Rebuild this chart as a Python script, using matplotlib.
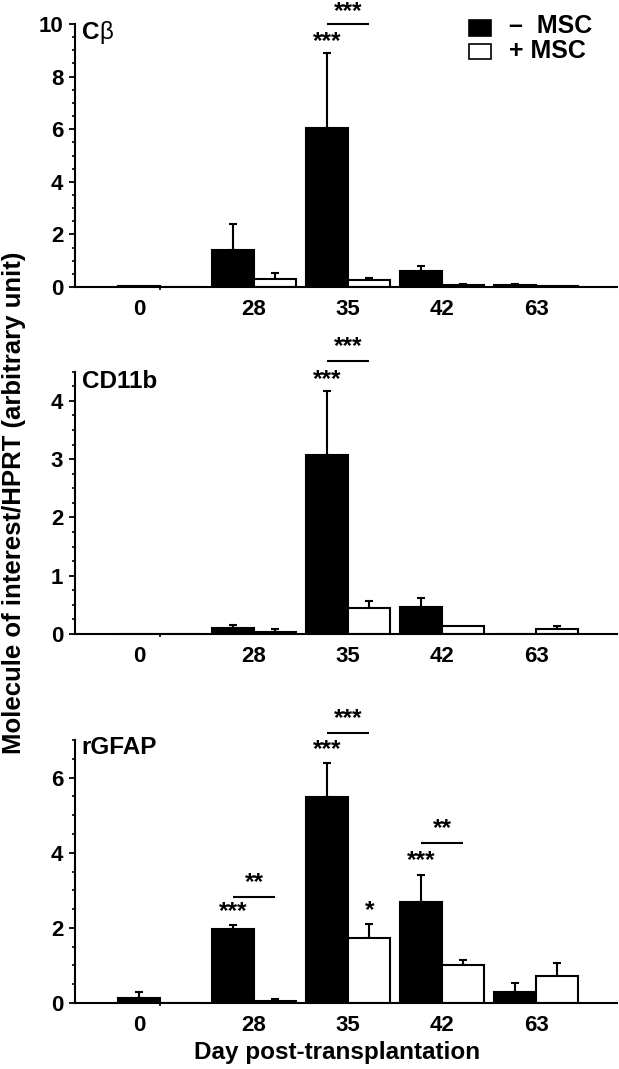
import matplotlib
matplotlib.use("Agg")
import matplotlib.pyplot as plt
from matplotlib.patches import Rectangle
import numpy as np

plt.rcParams['font.family'] = ['Liberation Sans', 'DejaVu Sans']
plt.rcParams['font.weight'] = 'bold'

# ---------------- data ----------------
days = ['0', '28', '35', '42', '63']

cb_minus = [0.05, 1.42, 6.06, 0.60, 0.06]
cb_minus_err = [0.0, 0.99, 2.84, 0.21, 0.07]
cb_plus = [0.0, 0.32, 0.28, 0.09, 0.02]
cb_plus_err = [0.0, 0.23, 0.06, 0.01, 0.0]

cd_minus = [0.0, 0.11, 3.07, 0.47, 0.0]
cd_minus_err = [0.0, 0.05, 1.10, 0.14, 0.0]
cd_plus = [0.0, 0.035, 0.44, 0.14, 0.086]
cd_plus_err = [0.0, 0.05, 0.12, 0.0, 0.054]

gf_minus = [0.13, 1.97, 5.49, 2.68, 0.29]
gf_minus_err = [0.16, 0.11, 0.89, 0.72, 0.23]
gf_plus = [0.0, 0.06, 1.72, 1.02, 0.72]
gf_plus_err = [0.0, 0.04, 0.38, 0.12, 0.34]

# significance: (group index, y of bar-star, y of line, y of line-star, bar text, line text)
cb_sig = [(2, 9.34, 10.0, 10.48, '***', '***')]
cd_sig = [(2, 4.37, 4.68, 4.93, '***', '***')]
gf_sig = [(1, 2.44, 2.83, 3.22, '***', '**'),
          (2, 6.74, 7.18, 7.57, '***', '***'),
          (3, 3.79, 4.27, 4.65, '***', '**')]
# stars above + MSC bars: (group index, y, text)
gf_plus_sig = [(2, 2.47, '*')]

panels = [
    dict(title='C', title2='β', minus=cb_minus, minus_err=cb_minus_err, plus=cb_plus,
         plus_err=cb_plus_err, ylim=10, major=2, minor=0.5, sig=cb_sig, plus_sig=[],
         rect=[75, 24, 617, 287], ty=0.968),
    dict(title='CD11b', title2='', minus=cd_minus, minus_err=cd_minus_err, plus=cd_plus,
         plus_err=cd_plus_err, ylim=4.5, major=1, minor=0.25, sig=cd_sig, plus_sig=[],
         rect=[75, 371.7, 617, 634], ty=0.962),
    dict(title='rGFAP', title2='', minus=gf_minus, minus_err=gf_minus_err, plus=gf_plus,
         plus_err=gf_plus_err, ylim=7, major=2, minor=0.5, sig=gf_sig, plus_sig=gf_plus_sig,
         rect=[75, 740, 617, 1003], ty=0.973),
]

W, H = 619, 1069
fig = plt.figure(figsize=(W / 100, H / 100), dpi=100)

bw = 0.45
x = np.arange(len(days))
LW = 1.5

for p in panels:
    l, t, r, b = p['rect']
    ax = fig.add_axes([l / W, 1 - b / H, (r - l) / W, (b - t) / H])
    xm = x - bw / 2
    xp = x + bw / 2
    # error bars (upper only)
    for xs, vals, errs in [(xm, p['minus'], p['minus_err']), (xp, p['plus'], p['plus_err'])]:
        vals = np.array(vals); errs = np.array(errs)
        m = errs > 0
        ax.errorbar(xs[m], vals[m], yerr=[np.zeros(m.sum()), errs[m]], fmt='none',
                    ecolor='black', elinewidth=LW, capsize=3, capthick=LW, zorder=1)
    ax.bar(xm, p['minus'], bw, color='black', edgecolor='black', linewidth=LW, zorder=2)
    ax.bar(xp, p['plus'], bw, color='white', edgecolor='black', linewidth=LW, zorder=2)

    for gi, y1, y2, y3, t1, t2 in p['sig']:
        ax.text(xm[gi], y1, t1, ha='center', va='center', fontsize=17.5, clip_on=False)
        ax.plot([xm[gi], xp[gi]], [y2, y2], color='black', lw=LW, clip_on=False,
                solid_capstyle='butt')
        ax.text(x[gi], y3, t2, ha='center', va='center', fontsize=17.5, clip_on=False)
    for gi, y1, t1 in p['plus_sig']:
        ax.text(xp[gi], y1, t1, ha='center', va='center', fontsize=17.5, clip_on=False)

    ax.set_xlim(-0.904, 4.86)
    ax.set_ylim(0, p['ylim'])
    for s in ['top', 'right']:
        ax.spines[s].set_visible(False)
    for s in ['left', 'bottom']:
        ax.spines[s].set_linewidth(LW)

    # x: tick marks at group centres, labels (day 0 under its bar)
    label_pos = [x[0] - bw / 2] + list(x[1:])
    ax.set_xticks(label_pos)
    ax.set_xticklabels(days, fontsize=16, fontweight='bold')
    ax.set_xticks(x, minor=True)
    ax.tick_params(axis='x', which='major', length=0, pad=8.5)
    ax.tick_params(axis='x', which='minor', length=2.5, width=1.2, direction='out')

    ax.set_yticks(np.arange(0, p['ylim'] + 1e-9, p['major']))
    ax.set_yticks(np.arange(0, p['ylim'] + 1e-9, p['minor']), minor=True)
    ax.set_yticklabels([f"{v:g}" for v in np.arange(0, p['ylim'] + 1e-9, p['major'])],
                       fontsize=16, fontweight='bold')
    ax.tick_params(axis='y', which='major', length=4.5, width=1.3, pad=4)
    ax.tick_params(axis='y', which='minor', length=2.5, width=1.2)

    tx = ax.text(0.012, p['ty'], p['title'], transform=ax.transAxes, ha='left', va='center',
                 fontsize=17.5, fontweight='bold')
    if p['title2']:
        ax.annotate(p['title2'], xycoords=tx, xy=(1, 0.5), ha='left', va='center',
                    fontsize=17.5, fontweight='normal')

# axis labels
fig.text(14 / W, 1 - 503 / H, 'Molecule of interest/HPRT (arbitrary unit)', rotation=90,
         ha='center', va='center', fontsize=18.5, fontweight='bold')
fig.text(337 / W, 1 - 1053 / H, 'Day post-transplantation', ha='center', va='center',
         fontsize=17.5, fontweight='bold')

# legend
fig.patches.append(Rectangle((469 / W, 1 - 36 / H), 22 / W, 16 / H, transform=fig.transFigure,
                             facecolor='black', edgecolor='black', linewidth=1.2))
fig.patches.append(Rectangle((469 / W, 1 - 58.5 / H), 22 / W, 15 / H, transform=fig.transFigure,
                             facecolor='white', edgecolor='black', linewidth=1.2))
fig.text(509 / W, 1 - 26 / H, '–  MSC', ha='left', va='center', fontsize=18, fontweight='bold')
fig.text(509 / W, 1 - 51 / H, '+ MSC', ha='left', va='center', fontsize=18, fontweight='bold')

fig.savefig('out.png', dpi=100)
